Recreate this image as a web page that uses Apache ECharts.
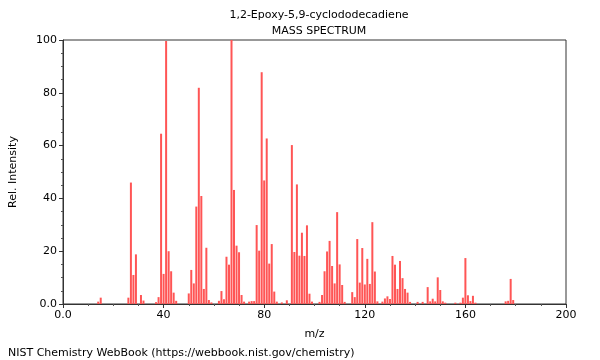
<!DOCTYPE html>
<html>
<head>
<meta charset="utf-8">
<script src="https://cdn.jsdelivr.net/npm/echarts@6/dist/echarts.min.js"></script>
<style>
html,body{margin:0;padding:0;background:#fff;}
#chart{width:600px;height:360px;}
</style>
</head>
<body>
<div id="chart"></div>
<script>
var titleText = "1,2-Epoxy-5,9-cyclododecadiene";
var subtitleText = "MASS SPECTRUM";
var xAxisName = "m/z";
var yAxisName = "Rel. Intensity";
var footerText = "NIST Chemistry WebBook (https://webbook.nist.gov/chemistry)";

var mz = [14,15,26,27,28,29,31,32,37,38,39,40,41,42,43,44,45,
  50,51,52,53,54,55,56,57,58,59,62,63,64,65,66,67,68,69,70,71,72,
  74,75,76,77,78,79,80,81,82,83,84,85,87,89,91,92,93,94,95,96,97,98,99,
  102,103,104,105,106,107,108,109,110,111,112,115,116,117,118,119,120,121,122,123,124,125,
  127,128,129,130,131,132,133,134,135,136,137,138,141,143,145,146,147,148,149,150,151,152,
  156,158,159,160,161,162,163,164,176,177,178,179];
var intensity = [0.9,2.4,2.4,46,11,18.8,3.4,1.3,0.7,2.6,64.5,11.4,99.6,20,12.4,4.3,1.2,
  4.0,12.9,7.8,36.9,81.9,40.9,5.7,21.3,1.5,0.6,1.2,4.9,1.8,17.9,14.9,100,43.2,22.1,19.6,3.4,0.9,
  0.9,1.1,1.1,29.9,20.2,87.8,46.8,62.7,15.3,22.7,4.7,0.9,0.6,1.4,60.2,19.7,45.3,18.3,27,18.2,29.8,3.9,0.9,
  0.8,3.4,12.4,19.9,23.9,14.4,7.8,34.8,15,7.2,0.8,4.5,2.6,24.6,8.1,21.2,7.4,17.1,7.6,31,12.3,1.0,
  0.9,2.1,2.9,1.9,18.2,14.9,5.7,16.3,9.8,5.7,4.3,0.8,0.8,0.8,6.4,1.0,2.0,1.0,10.1,5.3,1.0,0.5,
  0.5,0.5,2.4,17.4,3.3,1.1,3.1,0.5,1.0,1.2,9.5,1.5];

var seriesData = mz.map(function(m, i){ return [m, intensity[i]]; });
function fmt(v){ return v === 0 ? '0.0' : String(v); }

var chart = echarts.init(document.getElementById('chart'), null, {renderer:'canvas'});
var font = 'DejaVu Sans';
chart.setOption({
  animation: false,
  backgroundColor: '#fff',
  title: [
    {text: titleText, left: 314, top: 5, textAlign: 'center',
     textStyle: {fontFamily: font, fontSize: 11, fontWeight: 'normal', color: '#000'}},
    {text: subtitleText, left: 314, top: 21, textAlign: 'center',
     textStyle: {fontFamily: font, fontSize: 11, fontWeight: 'normal', color: '#000'}},
    {text: footerText, left: 3, top: 343,
     textStyle: {fontFamily: font, fontSize: 11, fontWeight: 'normal', color: '#000'}}
  ],
  grid: {left: 62, right: 34, top: 40, bottom: 56, show: true, borderColor: '#333', borderWidth: 1, backgroundColor: 'transparent'},
  xAxis: {
    type: 'value', min: 0, max: 200, interval: 40,
    name: xAxisName, nameLocation: 'middle', nameGap: 25,
    nameTextStyle: {fontFamily: font, fontSize: 11, color: '#000'},
    axisLine: {show: true, onZero: false, lineStyle: {color: '#333'}},
    axisTick: {show: true, length: 4, lineStyle: {color: '#333'}},
    minorTick: {show: true, splitNumber: 4, length: 2, lineStyle: {color: '#555'}},
    splitLine: {show: false},
    axisLabel: {fontFamily: font, fontSize: 11, color: '#000', margin: 6, formatter: fmt}
  },
  yAxis: {
    type: 'value', min: 0, max: 100, interval: 20,
    name: yAxisName, nameLocation: 'middle', nameGap: 44, nameRotate: 90,
    nameTextStyle: {fontFamily: font, fontSize: 11, color: '#000'},
    axisLine: {show: true, lineStyle: {color: '#333'}},
    axisTick: {show: true, length: 4, lineStyle: {color: '#333'}},
    minorTick: {show: true, splitNumber: 4, length: 2, lineStyle: {color: '#555'}},
    splitLine: {show: false},
    axisLabel: {fontFamily: font, fontSize: 11, color: '#000', margin: 6, formatter: fmt}
  },
  series: [{
    type: 'bar',
    data: seriesData,
    barWidth: 2,
    itemStyle: {color: '#ff5555'},
    silent: true
  }]
});
</script>
</body>
</html>
